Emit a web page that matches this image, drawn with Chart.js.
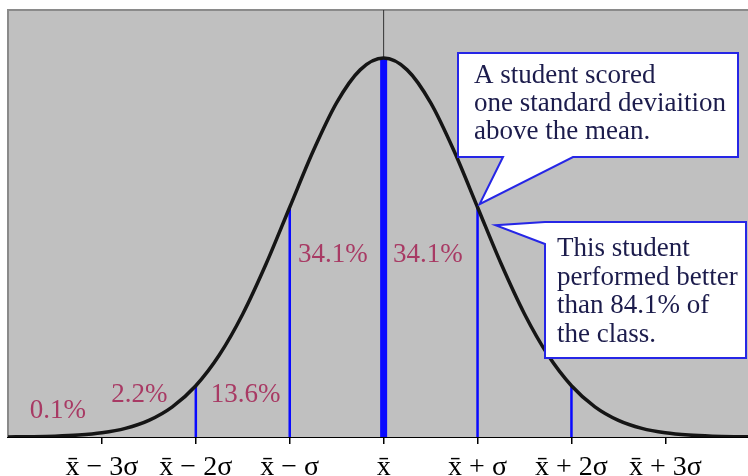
<!DOCTYPE html>
<html>
<head>
<meta charset="utf-8">
<script src="https://cdn.jsdelivr.net/npm/chart.js@4"></script>
<style>
    html, body { margin: 0; padding: 0; background: #fff; }
    #wrap { width: 748px; height: 476px; }
</style>
</head>
<body>
<div id="wrap"><canvas id="bellChart"></canvas></div>
<script>
// Bell curve (height relative to the peak)
const curveX = [-4, -3.75, -3.5, -3.25, -3, -2.75, -2.5, -2.25, -2, -1.75, -1.5, -1.25, -1, -0.75, -0.5, -0.25, 0,
                0.25, 0.5, 0.75, 1, 1.25, 1.5, 1.75, 2, 2.25, 2.5, 2.75, 3, 3.25, 3.5, 3.75, 4];
const curveY = [0.0003, 0.0009, 0.0022, 0.0051, 0.0111, 0.0228, 0.0439, 0.0796, 0.1353, 0.2163, 0.3247, 0.4578, 0.6065, 0.7548, 0.8825, 0.969, 1,
                0.969, 0.8825, 0.7548, 0.6065, 0.4578, 0.3247, 0.2163, 0.1353, 0.0796, 0.0439, 0.0228, 0.0111, 0.0051, 0.0022, 0.0009, 0.0003];

// x axis: standard deviations from the mean
const sigmaTicks = [-3, -2, -1, 0, 1, 2, 3];
const tickLabels = ['x\u0304 \u2212 3\u03C3', 'x\u0304 \u2212 2\u03C3', 'x\u0304 \u2212 \u03C3', 'x\u0304', 'x\u0304 + \u03C3', 'x\u0304 + 2\u03C3', 'x\u0304 + 3\u03C3'];

// blue dividing lines, up to the curve
const cutX = [-2, -1, 0, 1, 2];
const cutY = [0.1353, 0.6065, 1, 0.6065, 0.1353];

// percentage of the class in each band
const pctLabels = ['0.1%', '2.2%', '13.6%', '34.1%', '34.1%'];

const noteMean = ['A student scored', 'one standard deviaition', 'above the mean.'];
const noteBetter = ['This student', 'performed better', 'than 84.1% of', 'the class.'];

const SERIF = "'Liberation Serif', 'DejaVu Serif', serif";

const decorPlugin = {
    id: 'decor',
    beforeDatasetsDraw(chart) {
        const { ctx, chartArea: a } = chart;
        ctx.save();
        ctx.fillStyle = '#c0c0c0';
        ctx.fillRect(a.left, a.top, a.right - a.left, a.bottom - a.top);
        ctx.strokeStyle = '#8a8a8a';
        ctx.lineWidth = 2;
        ctx.beginPath();
        ctx.moveTo(a.left, a.bottom);
        ctx.lineTo(a.left, a.top);
        ctx.lineTo(a.right, a.top);
        ctx.stroke();
        ctx.restore();
    },
    afterDatasetsDraw(chart) {
        const { ctx, scales: { x, y } } = chart;
        ctx.save();

        // percentage labels
        const pctPos = [[-3.47, 0.069], [-2.6, 0.11], [-1.47, 0.11], [-0.54, 0.48], [0.47, 0.48]];
        ctx.font = '27px ' + SERIF;
        ctx.fillStyle = '#a83a64';
        ctx.textAlign = 'center';
        ctx.textBaseline = 'middle';
        pctLabels.forEach((t, i) => {
            ctx.fillText(t, x.getPixelForValue(pctPos[i][0]), y.getPixelForValue(pctPos[i][1]));
        });

        // callout 1 pointing at +1 sigma on the curve
        const tipX = x.getPixelForValue(1) + 2;
        const tipY = y.getPixelForValue(0.6065) - 3;
        ctx.fillStyle = '#fff';
        ctx.strokeStyle = '#2626e6';
        ctx.lineWidth = 2;
        ctx.beginPath();
        ctx.moveTo(458, 53);
        ctx.lineTo(738, 53);
        ctx.lineTo(738, 157);
        ctx.lineTo(573, 157);
        ctx.lineTo(tipX, tipY);
        ctx.lineTo(503, 157);
        ctx.lineTo(458, 157);
        ctx.closePath();
        ctx.fill();
        ctx.stroke();

        // callout 2
        const tip2X = x.getPixelForValue(1) + 18;
        const tip2Y = y.getPixelForValue(0.6065) + 18;
        ctx.beginPath();
        ctx.moveTo(545, 222);
        ctx.lineTo(746, 222);
        ctx.lineTo(746, 358);
        ctx.lineTo(545, 358);
        ctx.lineTo(545, 244);
        ctx.lineTo(tip2X, tip2Y);
        ctx.closePath();
        ctx.fill();
        ctx.stroke();

        ctx.fillStyle = '#1c1c4c';
        ctx.textAlign = 'left';
        ctx.font = '27px ' + SERIF;
        noteMean.forEach((t, i) => ctx.fillText(t, 474, 76 + i * 28));
        noteBetter.forEach((t, i) => ctx.fillText(t, 557, 249 + i * 28.5));

        ctx.restore();
    }
};

const lineSet = (px, py, width, color) => ({
    data: [{ x: px, y: 0 }, { x: px, y: py }],
    borderColor: color,
    borderWidth: width,
    pointRadius: 0,
    order: 2
});

new Chart(document.getElementById('bellChart'), {
    type: 'line',
    data: {
        datasets: [
            {
                data: curveX.map((v, i) => ({ x: v, y: curveY[i] })),
                borderColor: '#151515',
                borderWidth: 3.5,
                pointRadius: 0,
                cubicInterpolationMode: 'monotone',
                order: 0
            },
            // thin black line above the peak
            {
                data: [{ x: 0, y: 1 }, { x: 0, y: 1.13 }],
                borderColor: '#333',
                borderWidth: 1,
                pointRadius: 0,
                order: 1
            },
            ...cutX.map((v, i) => lineSet(v, cutY[i], v === 0 ? 7 : 2.5, '#0a0aff'))
        ]
    },
    options: {
        responsive: true,
        maintainAspectRatio: false,
        animation: false,
        layout: { padding: { left: 8, top: 10, right: 0, bottom: 0 } },
        plugins: {
            legend: { display: false },
            tooltip: { enabled: false }
        },
        scales: {
            x: {
                type: 'linear',
                min: -4,
                max: 3.88,
                afterBuildTicks: (axis) => {
                    axis.ticks = sigmaTicks.map(v => ({ value: v }));
                },
                afterFit: (axis) => {
                    axis.height = 39;
                },
                ticks: {
                    autoSkip: false,
                    maxRotation: 0,
                    padding: 7,
                    color: '#000',
                    font: { family: SERIF, size: 28 },
                    callback: (v) => tickLabels[sigmaTicks.indexOf(v)]
                },
                grid: {
                    drawOnChartArea: false,
                    drawTicks: true,
                    tickLength: 7,
                    color: '#000',
                    lineWidth: 1.5
                },
                border: { color: '#000', width: 2 }
            },
            y: {
                display: false,
                min: 0,
                max: 1.127
            }
        }
    },
    plugins: [decorPlugin]
});
</script>
</body>
</html>
